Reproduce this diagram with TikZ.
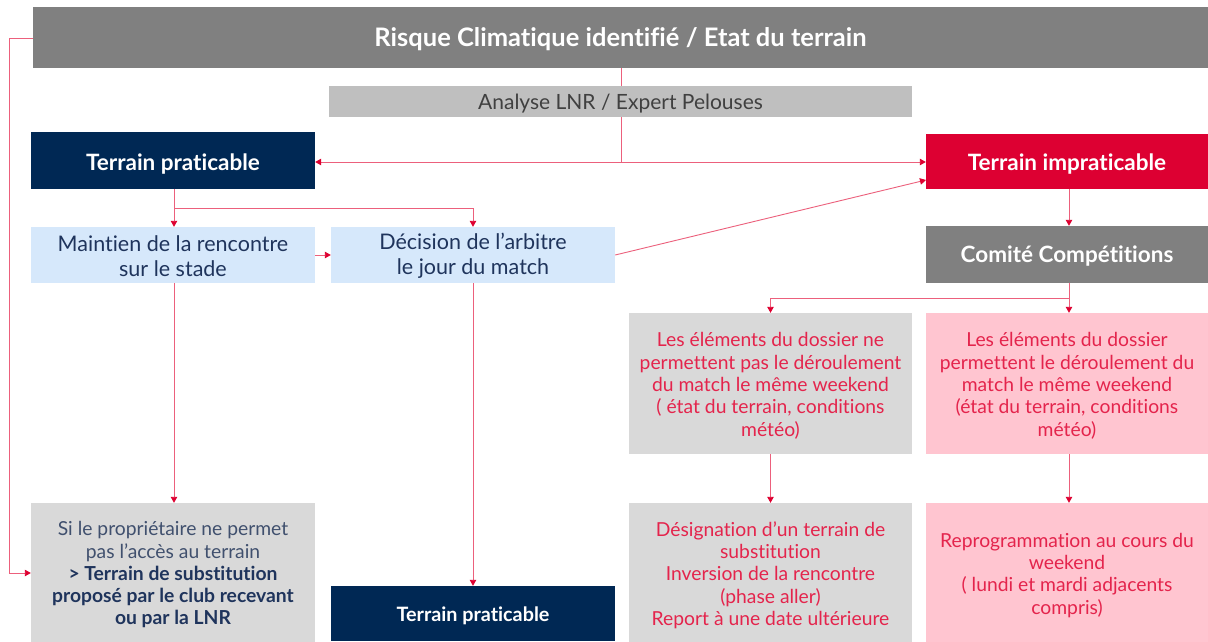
\documentclass[tikz,border=0pt]{standalone}
\usepackage{fontspec}
\setmainfont{Lato}[Ligatures=NoCommon]
\usetikzlibrary{arrows.meta,backgrounds}
\definecolor{topgray}{RGB}{128,128,128}
\definecolor{anagray}{RGB}{191,191,191}
\definecolor{navy}{RGB}{0,40,84}
\definecolor{impred}{RGB}{221,0,50}
\definecolor{lblue}{RGB}{214,232,251}
\definecolor{lgray}{RGB}{217,217,217}
\definecolor{lpink}{RGB}{255,197,208}
\definecolor{navytext}{RGB}{31,52,92}
\definecolor{sitext}{RGB}{64,80,110}
\definecolor{redtext}{RGB}{228,36,76}
\definecolor{linered}{RGB}{236,96,124}
\definecolor{tipred}{RGB}{222,0,48}
\newcommand{\topst}[1]{\rule{0pt}{#1}}
\tikzset{
  box/.style={rectangle, inner sep=0pt, align=center},
  bigbold/.style={font=\bfseries\fontsize{22.5}{26}\selectfont, text=white},
  reg/.style={font=\fontsize{21.5}{25}\selectfont},
  small/.style={font=\fontsize{19.3}{22.3}\selectfont},
  conn/.style={draw=linered, line width=0.9pt},
  arr/.style={conn, -{Triangle[length=6pt,width=6.5pt,color=tipred]}}
}
\begin{document}
\begin{tikzpicture}[x=1pt,y=-1pt]
\useasboundingbox (0,0) rectangle (1208,641);
% boxes
\node[box, fill=topgray, minimum width=1175pt, minimum height=61pt, text=white, font=\bfseries\fontsize{25.5}{28}\selectfont, text height=23.3pt, text depth=5pt] (top) at (620.5,37.5) {Risque Climatique identifié / Etat du terrain};
\node[box, fill=anagray, minimum width=583pt, minimum height=31pt, text=black!75, font=\fontsize{21}{24}\selectfont, text height=20pt, text depth=5pt] (ana) at (620.5,101.5) {Analyse LNR / Expert Pelouses};
\node[box, fill=navy, minimum width=284pt, minimum height=57pt, bigbold, text height=25pt, text depth=5pt] (tp1) at (173,160.5) {Terrain praticable};
\node[box, fill=impred, minimum width=282pt, minimum height=55pt, bigbold, text height=23pt, text depth=5pt] (timp) at (1067,161.5) {Terrain impraticable};
\node[box, fill=lblue, minimum width=284pt, minimum height=56pt, reg, text=navytext] (main) at (173,255) {\topst{18pt}Maintien de la rencontre\\sur le stade};
\node[box, fill=lblue, minimum width=284pt, minimum height=56pt, reg, text=navytext] (dec) at (473,255) {\topst{18.5pt}Décision de l’arbitre\\le jour du match};
\node[box, fill=topgray, minimum width=282pt, minimum height=57pt, bigbold, text height=21.2pt, text depth=5pt] (com) at (1067,254.5) {Comité Compétitions};
\node[box, fill=lgray, minimum width=283pt, minimum height=141pt, small, text=redtext] (ga) at (770.5,383.5) {\topst{19pt}Les éléments du dossier ne\\permettent pas le déroulement\\du match le même weekend\\( état du terrain, conditions\\météo)};
\node[box, fill=lpink, minimum width=282pt, minimum height=141pt, small, text=redtext] (pa) at (1067,383.5) {\topst{19pt}Les éléments du dossier\\permettent le déroulement du\\match le même weekend\\(état du terrain, conditions\\météo)};
\node[box, fill=lgray, minimum width=284pt, minimum height=140pt, small, text=sitext] (si) at (173,573) {\topst{18pt}Si le propriétaire ne permet\\pas l’accès au terrain\\\textcolor{navytext}{\bfseries > Terrain de substitution}\\\textcolor{navytext}{\bfseries proposé par le club recevant}\\\textcolor{navytext}{\bfseries ou par la LNR}};
\node[box, fill=navy, minimum width=284pt, minimum height=55pt, text=white, font=\bfseries\fontsize{19.8}{22}\selectfont, text height=20.8pt, text depth=5pt] (tp2) at (473,613.5) {Terrain praticable};
\node[box, fill=lgray, minimum width=283pt, minimum height=140pt, small, text=redtext] (gb) at (770.5,573) {\topst{19pt}Désignation d’un terrain de\\substitution\\Inversion de la rencontre\\(phase aller)\\Report à une date ultérieure};
\node[box, fill=lpink, minimum width=282pt, minimum height=140pt, small, text=redtext] (pb) at (1067,573) {\topst{18.5pt}Reprogrammation au cours du\\weekend\\( lundi et mardi adjacents\\compris)};
% connectors
\begin{scope}[on background layer]
\fill[white] (0,0) rectangle (1208,641);
\coordinate (s1) at (621,162);
\coordinate (s2) at (174,208);
\coordinate (s3) at (1069,298);
\coordinate (lc) at (9,38);
\draw[conn] (621,68) -- (s1);
\draw[arr] (s1) -- (tp1.east |- s1);
\draw[arr] (s1) -- (timp.west |- s1);
\draw[conn] (tp1.south -| s2) -- (s2) -- (s2 -| dec.north);
\draw[arr] (s2) -- (main.north -| s2);
\draw[arr] (s2 -| dec.north) -- (dec.north);
\draw[arr] (main.east) -- (dec.west);
\draw[arr] (dec.east) -- (926,180);
\draw[arr] (timp.south -| s3) -- (com.north -| s3);
\draw[conn] (com.south -| s3) -- (s3) -- (s3 -| ga.north);
\draw[arr] (s3) -- (pa.north -| s3);
\draw[arr] (s3 -| ga.north) -- (ga.north);
\draw[arr] (ga.south) -- (gb.north);
\draw[arr] (pa.south -| s3) -- (pb.north -| s3);
\draw[arr] (main.south -| s2) -- (si.north -| s2);
\draw[arr] (dec.south) -- (tp2.north);
\draw[arr] (top.west |- lc) -- (lc) -- (9,573) -- (si.west |- 0,573);
\end{scope}
\end{tikzpicture}
\end{document}
